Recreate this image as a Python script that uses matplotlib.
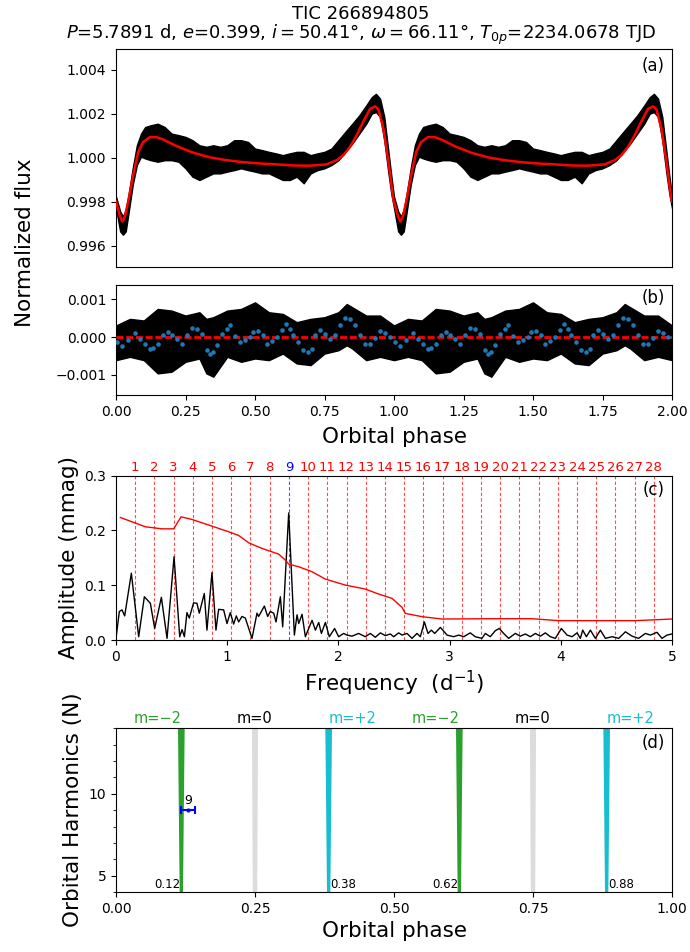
import numpy as np
import matplotlib
matplotlib.use('Agg')
import matplotlib.pyplot as plt
from matplotlib.ticker import MultipleLocator

# ---------------- data ----------------
# Panel (a): phase-folded light curve (one orbital cycle, drawn twice)
model_phase = [0.0, 0.0144, 0.023, 0.032, 0.044, 0.062, 0.080, 0.098, 0.122, 0.146,
               0.170, 0.218, 0.278, 0.338, 0.398, 0.458, 0.518, 0.578, 0.638, 0.698,
               0.758, 0.794, 0.818, 0.842, 0.866, 0.890, 0.914, 0.932, 0.944, 0.962,
               0.980, 0.998]
model_flux = [0.99801, 0.99733, 0.99710, 0.99733, 0.99801, 0.99922, 1.00027, 1.00072,
              1.00094, 1.00094, 1.00083, 1.00053, 1.00023, 1.00002, 0.99989, 0.99980,
              0.99974, 0.99970, 0.99965, 0.99964, 0.99970, 0.99989, 1.00012, 1.00050,
              1.00103, 1.00166, 1.00223, 1.00234, 1.00220, 1.00133, 0.99982, 0.99808]

obs_phase = [0.000, 0.015, 0.025, 0.035, 0.045, 0.060, 0.075, 0.090, 0.105, 0.125,
             0.150, 0.175, 0.200, 0.225, 0.250, 0.275, 0.300, 0.325, 0.350, 0.375,
             0.400, 0.425, 0.450, 0.475, 0.500, 0.525, 0.550, 0.575, 0.600, 0.625,
             0.650, 0.675, 0.700, 0.725, 0.750, 0.775, 0.800, 0.825, 0.850, 0.875,
             0.900, 0.920, 0.935, 0.950, 0.965, 0.980, 0.990, 1.000]
obs_upper = [0.99823, 0.99756, 0.99733, 0.99763, 0.99831, 0.99952, 1.00057, 1.00110,
             1.00140, 1.00148, 1.00155, 1.00140, 1.00110, 1.00103, 1.00095, 1.00080,
             1.00057, 1.00050, 1.00057, 1.00050, 1.00057, 1.00080, 1.00080, 1.00072,
             1.00042, 1.00035, 1.00027, 1.00020, 1.00012, 1.00020, 1.00027, 1.00027,
             1.00012, 1.00020, 1.00027, 1.00042, 1.00080, 1.00118, 1.00155, 1.00193,
             1.00238, 1.00276, 1.00291, 1.00269, 1.00186, 1.00027, 0.99922, 0.99823]
obs_lower = [0.99771, 0.99665, 0.99650, 0.99665, 0.99748, 0.99876, 0.99967, 1.00005,
             0.99997, 0.99989, 0.99982, 0.99989, 0.99989, 0.99982, 0.99952, 0.99914,
             0.99899, 0.99914, 0.99929, 0.99929, 0.99937, 0.99944, 0.99952, 0.99944,
             0.99937, 0.99929, 0.99929, 0.99914, 0.99899, 0.99899, 0.99914, 0.99884,
             0.99929, 0.99944, 0.99952, 0.99967, 0.99989, 1.00027, 1.00065, 1.00110,
             1.00155, 1.00201, 1.00208, 1.00186, 1.00080, 0.99929, 0.99839, 0.99771]

# Panel (b): residuals (band of points) and binned residuals
res_phase = [0.00, 0.05, 0.10, 0.15, 0.20, 0.25, 0.30, 0.325, 0.35, 0.40, 0.45, 0.50,
             0.55, 0.60, 0.65, 0.70, 0.75, 0.80, 0.83, 0.85, 0.90, 0.95, 1.00]
res_upper = [0.000307, 0.000482, 0.000439, 0.000746, 0.000702, 0.000570, 0.000658,
             0.000482, 0.000526, 0.000702, 0.000746, 0.000921, 0.000658, 0.000614,
             0.000395, 0.000482, 0.000526, 0.000658, 0.000877, 0.000789, 0.000570,
             0.000570, 0.000307]
res_lower = [-0.000614, -0.000526, -0.000614, -0.000965, -0.000921, -0.000658, -0.000570,
             -0.000965, -0.001053, -0.000526, -0.000658, -0.000570, -0.000614, -0.000439,
             -0.000702, -0.000746, -0.000439, -0.000351, -0.000219, -0.000307, -0.000614,
             -0.000526, -0.000614]

bin_phase = [0.0048, 0.0228, 0.0444, 0.0683, 0.0863, 0.1043, 0.1223, 0.1343, 0.1523,
             0.1703, 0.1882, 0.2002, 0.2182, 0.2362, 0.2542, 0.2722, 0.2926, 0.3082,
             0.3261, 0.3381, 0.3501, 0.3645, 0.3801, 0.3981, 0.4101, 0.4281, 0.4460,
             0.4640, 0.4820, 0.4940, 0.5120, 0.5276, 0.5420, 0.5600, 0.5779, 0.5959,
             0.6115, 0.6259, 0.6379, 0.6559, 0.6739, 0.6918, 0.7038, 0.7158, 0.7338,
             0.7518, 0.7698, 0.7878, 0.8058, 0.8237, 0.8417, 0.8597, 0.8777, 0.8957,
             0.9137, 0.9317, 0.9496, 0.9676, 0.9856]
bin_resid = [-0.000132, -0.000237, -0.000088, 0.000114, -0.000044, -0.000175, -0.000307,
             -0.000289, -0.000175, 0.000044, 0.000132, 0.000044, -0.000044, -0.000175,
             0.000044, 0.000237, 0.000219, 0.000088, -0.000351, -0.000439, -0.000395,
             -0.000219, 0.000088, 0.000219, 0.000307, 0.000026, -0.000132, -0.000088,
             0.0, 0.000132, 0.000149, 0.000044, -0.000175, -0.000114, 0.0, 0.000175,
             0.000351, 0.000219, 0.000044, -0.000132, -0.000351, -0.000395, -0.000307,
             0.000044, 0.000175, 0.000088, -0.000044, 0.000044, 0.000307, 0.000500,
             0.000482, 0.000325, 0.000044, -0.000175, -0.000175, -0.000026, 0.000149,
             0.000114, 0.0]

# Panel (c): amplitude spectrum of residuals and significance level
freq = [0.000, 0.030, 0.054, 0.078, 0.138, 0.204, 0.255, 0.309, 0.348, 0.408, 0.459,
        0.522, 0.573, 0.594, 0.615, 0.638, 0.659, 0.698, 0.728, 0.749, 0.794, 0.818,
        0.863, 0.899, 0.923, 0.968, 0.998, 1.028, 1.058, 1.082, 1.103, 1.133, 1.163,
        1.223, 1.268, 1.283, 1.334, 1.364, 1.388, 1.418, 1.439, 1.478, 1.499, 1.553,
        1.604, 1.628, 1.643, 1.673, 1.703, 1.763, 1.793, 1.823, 1.847, 1.883, 1.918,
        1.966, 2.002, 2.047, 2.077, 2.122, 2.182, 2.242, 2.287, 2.332, 2.377, 2.422,
        2.467, 2.497, 2.542, 2.572, 2.617, 2.662, 2.707, 2.737, 2.773, 2.806, 2.836,
        2.866, 2.917, 2.977, 3.036, 3.082, 3.127, 3.186, 3.231, 3.291, 3.321, 3.366,
        3.411, 3.447, 3.486, 3.531, 3.591, 3.636, 3.681, 3.726, 3.771, 3.816, 3.861,
        3.906, 3.951, 4.005, 4.056, 4.101, 4.146, 4.176, 4.197, 4.230, 4.266, 4.311,
        4.356, 4.401, 4.461, 4.521, 4.581, 4.641, 4.700, 4.760, 4.805, 4.865, 4.910,
        4.955, 5.000]
amp = [0.003, 0.052, 0.055, 0.044, 0.122, 0.006, 0.079, 0.067, 0.021, 0.078, 0.003,
       0.152, 0.006, 0.019, 0.006, 0.050, 0.040, 0.068, 0.067, 0.049, 0.085, 0.018,
       0.123, 0.018, 0.056, 0.055, 0.030, 0.050, 0.029, 0.044, 0.033, 0.043, 0.040,
       0.003, 0.049, 0.043, 0.062, 0.043, 0.052, 0.049, 0.033, 0.079, 0.024, 0.232,
       0.009, 0.046, 0.030, 0.047, 0.006, 0.036, 0.018, 0.032, 0.012, 0.032, 0.006,
       0.021, 0.006, 0.012, 0.009, 0.007, 0.012, 0.006, 0.012, 0.005, 0.013, 0.008,
       0.011, 0.006, 0.013, 0.009, 0.012, 0.003, 0.012, 0.006, 0.033, 0.012, 0.018,
       0.012, 0.023, 0.009, 0.006, 0.009, 0.006, 0.013, 0.006, 0.003, 0.012, 0.006,
       0.017, 0.021, 0.012, 0.003, 0.012, 0.007, 0.011, 0.006, 0.012, 0.007, 0.013,
       0.006, 0.003, 0.021, 0.009, 0.006, 0.013, 0.003, 0.018, 0.006, 0.018, 0.003,
       0.018, 0.003, 0.006, 0.003, 0.015, 0.007, 0.003, 0.012, 0.009, 0.014, 0.003,
       0.009, 0.011]
sig_freq = [0.039, 0.144, 0.264, 0.414, 0.519, 0.585, 0.683, 0.863, 1.013, 1.103, 1.193,
            1.313, 1.463, 1.523, 1.553, 1.643, 1.763, 1.883, 2.062, 2.242, 2.362, 2.482,
            2.572, 2.602, 2.752, 2.932, 3.381, 3.741, 3.981, 4.281, 4.670, 5.000]
sig_amp = [0.2237, 0.2158, 0.2067, 0.2030, 0.2030, 0.2249, 0.2201, 0.2079, 0.1976,
           0.1909, 0.1775, 0.1672, 0.1568, 0.1459, 0.1386, 0.1337, 0.1246, 0.1112,
           0.1003, 0.0930, 0.0839, 0.0760, 0.0596, 0.0486, 0.0426, 0.0383, 0.0389,
           0.0389, 0.0353, 0.0353, 0.0353, 0.0383]
period = 5.7891
harmonics = list(range(1, 29))
highlight_harmonic = 9

# Panel (d): tidally tilted pulsation phases
band_centers = [0.1175, 0.25, 0.3825, 0.6175, 0.75, 0.8825]
band_halfwidth_top = [0.006, 0.0055, 0.006, 0.006, 0.0055, 0.006]
band_halfwidth_bottom = [0.003, 0.004, 0.003, 0.003, 0.004, 0.003]
band_m = ['m=\u22122', 'm=0', 'm=+2', 'm=\u22122', 'm=0', 'm=+2']
band_values = ['0.12', '', '0.38', '0.62', '', '0.88']
mode_N = [9]
mode_phase = [0.1295]
mode_phase_err = [0.013]

# ---------------- figure ----------------
plt.rcParams['font.family'] = ['DejaVu Sans']
plt.rcParams['xtick.labelsize'] = 10
plt.rcParams['ytick.labelsize'] = 10

W, H = 690, 952
fig = plt.figure(figsize=(W / 100, H / 100), dpi=100)


def box(l, t, r, b):
    return [l / W, 1 - b / H, (r - l) / W, (b - t) / H]


axA = fig.add_axes(box(116, 49, 672, 267))
axB = fig.add_axes(box(116, 284.7, 672, 395))
axC = fig.add_axes(box(116, 475.7, 672, 640))
axD = fig.add_axes(box(116, 728.3, 672, 892))

LABEL_FS = 15.5
green, cyan, grey = '#2ca02c', '#17becf', '#dcdcdc'

# ---- (a)
op = np.array(obs_phase)
ph2 = np.concatenate([op, op + 1])
up2 = np.concatenate([obs_upper, obs_upper])
lo2 = np.concatenate([obs_lower, obs_lower])
axA.fill_between(ph2, lo2, up2, color='black', lw=1.0, edgecolor='black', zorder=2)
mp = np.array(model_phase)
axA.plot(np.concatenate([mp, mp + 1, [2.0]]),
         np.concatenate([model_flux, model_flux, [model_flux[0]]]),
         color='red', lw=1.8, zorder=3)
axA.set_xlim(0, 2)
axA.set_ylim(0.99503, 1.00495)
axA.set_yticks([0.996, 0.998, 1.000, 1.002, 1.004])
axA.set_xticks(np.arange(0, 2.01, 0.25))
axA.set_xticklabels([])
axA.tick_params(axis='x', length=0)
axA.text(0.987, 0.965, '(a)', transform=axA.transAxes, ha='right', va='top', fontsize=12)

# ---- (b)
rp = np.array(res_phase)
axB.fill_between(np.concatenate([rp, rp + 1]),
                 np.concatenate([res_lower, res_lower]),
                 np.concatenate([res_upper, res_upper]),
                 color='black', lw=1.0, edgecolor='black', zorder=2)
axB.axhline(0, color='red', lw=2, dashes=(2.5, 1.0), zorder=3)
bp = np.array(bin_phase)
axB.plot(np.concatenate([bp, bp + 1]), np.concatenate([bin_resid, bin_resid]),
         'o', color='#1f77b4', ms=3.3, mew=0, zorder=4)
axB.set_xlim(0, 2)
axB.set_ylim(-0.00154, 0.00139)
axB.set_yticks([-0.001, 0.0, 0.001])
axB.set_yticklabels(['\u22120.001', '0.000', '0.001'])
axB.set_xticks(np.arange(0, 2.01, 0.25))
axB.set_xticklabels(['%.2f' % v for v in np.arange(0, 2.01, 0.25)])
axB.set_xlabel('Orbital phase', fontsize=LABEL_FS, labelpad=6)
axB.text(0.987, 0.965, '(b)', transform=axB.transAxes, ha='right', va='top', fontsize=12)

fig.text(25.5 / W, 1 - 243 / H, 'Normalized flux', rotation=90, ha='center', va='center',
         fontsize=LABEL_FS)

# ---- (c)
forb = 1.0 / period
for n in harmonics:
    c = 'blue' if n == highlight_harmonic else 'red'
    axC.axvline(n * forb, color=c, lw=0.8, ls=(0, (3, 2)), alpha=0.7, zorder=1)
    axC.text(n * forb, 0.303, str(n), color=c, ha='center', va='bottom', fontsize=9.5)
axC.plot(freq, amp, color='black', lw=1.0, zorder=3)
axC.plot(sig_freq, sig_amp, color='red', lw=1.0, zorder=3)
axC.set_xlim(0, 5)
axC.set_ylim(0, 0.3)
axC.set_yticks([0.0, 0.1, 0.2, 0.3])
axC.set_xticks([0, 1, 2, 3, 4, 5])
axC.set_xlabel(r'Frequency  (d$^{-1}$)', fontsize=LABEL_FS)
axC.set_ylabel('Amplitude (mmag)', fontsize=LABEL_FS)
axC.text(0.987, 0.965, '(c)', transform=axC.transAxes, ha='right', va='top', fontsize=12)

# ---- (d)
colors = [green, grey, cyan, green, grey, cyan]
text_colors = [green, 'black', cyan, green, 'black', cyan]
aligns = ['right', 'center', 'left', 'right', 'center', 'left']
for c0, ht, hb, col, tc, al, m, val in zip(band_centers, band_halfwidth_top,
                                           band_halfwidth_bottom, colors, text_colors,
                                           aligns, band_m, band_values):
    axD.fill([c0 - hb, c0 - ht, c0 + ht, c0 + hb], [4, 14, 14, 4], color=col, lw=0, zorder=1)
    axD.text(c0, 14.15, m, color=tc, ha=al, va='bottom', fontsize=10.5)
    if val:
        axD.text(c0 - 0.002 if al == 'right' else c0 + 0.002, 4.08, val,
                 ha=al, va='bottom', fontsize=8.5, zorder=3)
axD.errorbar(mode_phase, mode_N, xerr=mode_phase_err, fmt='o', color='blue', ms=2,
             capsize=3, lw=1.5, capthick=1.5, zorder=4)
for p, n in zip(mode_phase, mode_N):
    axD.text(p, n + 0.2, str(n), ha='center', va='bottom', fontsize=9, zorder=4)
axD.set_xlim(0, 1)
axD.set_ylim(4, 14)
axD.set_xticks([0, 0.25, 0.5, 0.75, 1.0])
axD.set_xticklabels(['0.00', '0.25', '0.50', '0.75', '1.00'])
axD.yaxis.set_major_locator(MultipleLocator(5))
axD.yaxis.set_minor_locator(MultipleLocator(1))
axD.set_xlabel('Orbital phase', fontsize=LABEL_FS)
axD.set_ylabel('Orbital Harmonics (N)', fontsize=LABEL_FS)
axD.text(0.987, 0.965, '(d)', transform=axD.transAxes, ha='right', va='top', fontsize=12)

# ---- title
fig.text(361 / W, 1 - 19 / H, 'TIC 266894805', ha='center', va='baseline', fontsize=13)
fig.text(361 / W, 1 - 39.3 / H,
         r'$P$=5.7891 d, $e$=0.399, $i=$50.41°, $\omega=$66.11°, $T_{0p}$=2234.0678 TJD',
         ha='center', va='baseline', fontsize=13)

fig.savefig('out.png', dpi=100)
